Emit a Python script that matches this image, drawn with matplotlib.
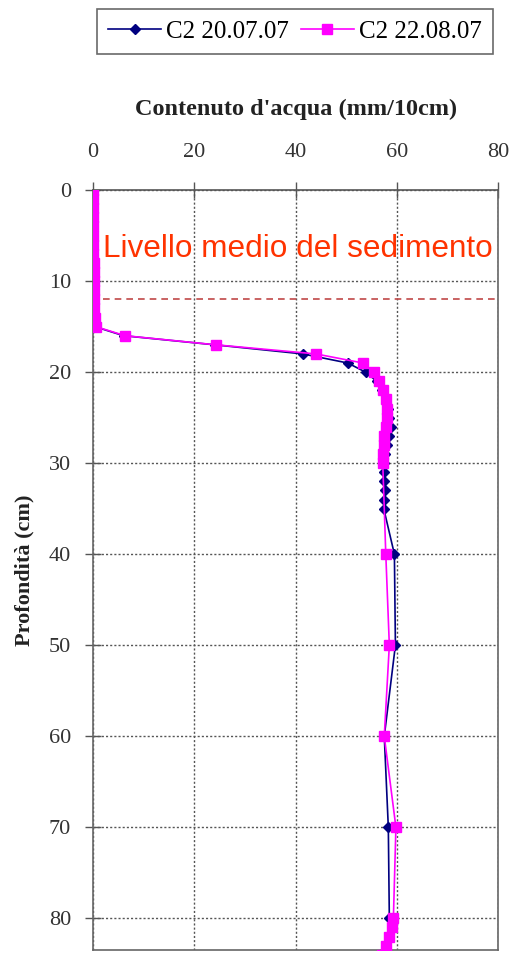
import matplotlib.pyplot as plt

# --- Data: water content (mm/10cm) by depth (cm) ---
depth_0707 = [0, 1, 2, 3, 4, 5, 6, 7, 8, 9, 10, 11, 12, 13, 14, 15,
              16, 17, 18, 19, 20, 21, 22, 23, 24, 25, 26, 27, 28, 29,
              30, 31, 32, 33, 34, 35, 40, 50, 60, 70, 80]
water_0707 = [0.0, 0.0, 0.0, 0.0, 0.0, 0.0, 0.0, 0.0, 0.0, 0.0, 0.0, 0.0, 0.0, 0.1, 0.2, 0.3,
              6.0, 24.0, 41.4, 50.3, 53.8, 56.0, 57.0, 57.8, 58.3, 58.5, 58.8, 58.5, 58.0, 57.7,
              57.5, 57.4, 57.5, 57.6, 57.5, 57.4, 59.5, 59.7, 57.5, 58.3, 58.5]

depth_2208 = [0, 1, 2, 3, 4, 5, 6, 7, 8, 9, 10, 11, 12, 13, 14, 15,
              16, 17, 18, 19, 20, 21, 22, 23, 24, 25, 26, 27, 28, 29,
              30, 40, 50, 60, 70, 80, 81, 82, 83, 84]
water_2208 = [0.0, 0.0, 0.0, 0.0, 0.0, 0.0, 0.0, 0.0, 0.1, 0.1, 0.1, 0.1, 0.2, 0.2, 0.3, 0.5,
              6.3, 24.2, 44.0, 53.3, 55.5, 56.5, 57.3, 57.8, 58.0, 58.0, 57.8, 57.5, 57.5, 57.3,
              57.2, 57.8, 58.5, 57.5, 59.8, 59.3, 59.0, 58.4, 57.8, 57.0]

sediment_level = 12
x_ticks = [0, 20, 40, 60, 80]
y_ticks = [0, 10, 20, 30, 40, 50, 60, 70, 80]

serif = ['Liberation Serif', 'DejaVu Serif']

fig = plt.figure(figsize=(5.12, 9.55), dpi=100)
ax = fig.add_axes([0.182, 0.005, 0.791, 0.796])

l1, = ax.plot(water_0707, depth_0707, color='#000080', lw=1.2, marker='D',
              ms=5.5, mec='#000080', mfc='#000080', label='C2 20.07.07', zorder=3)
l2, = ax.plot(water_2208, depth_2208, color='#FF00FF', lw=1.2, marker='s',
              ms=7.5, mec='#FF00FF', mfc='#FF00FF', label='C2 22.08.07', zorder=4)

# sediment level marker
ax.plot([2, 80], [sediment_level, sediment_level], color='#C04848', lw=1.2,
        ls=(0, (4, 3)), zorder=2)
ax.text(2, 7.4, 'Livello medio del sedimento', color='#FF3300',
        fontsize=22.7, family='Liberation Sans', va='baseline', ha='left', zorder=5)

ax.set_xlim(0, 80)
ax.set_ylim(83.5, 0)
ax.xaxis.tick_top()
ax.xaxis.set_label_position('top')
ax.set_xticks(x_ticks)
ax.set_yticks(y_ticks)
ax.grid(True, color='#555555', ls=(0, (1.5, 1.5)), lw=1.0)
ax.set_axisbelow(True)

for lab in ax.get_xticklabels() + ax.get_yticklabels():
    lab.set_family(serif)
    lab.set_fontsize(16)
    lab.set_color('#333333')
ax.tick_params(axis='x', direction='inout', length=12, width=1, color='#555555', pad=14)
ax.tick_params(axis='y', direction='inout', length=12, width=1, color='#555555', pad=10)

for s in ax.spines.values():
    s.set_color('#666666')
    s.set_linewidth(1.2)
ax.spines['top'].set_color('#555555')

ax.set_xlabel("Contenuto d'acqua (mm/10cm)", family=serif, fontsize=17.5,
              fontweight='bold', color='#222222', labelpad=20)
ax.set_ylabel('Profondità (cm)', family=serif, fontsize=16,
              fontweight='bold', color='#222222', labelpad=10)

leg = fig.legend(handles=[l1, l2], loc='center', bbox_to_anchor=(0.576, 0.967),
                 ncol=2, frameon=True, fancybox=False, edgecolor='#444444',
                 prop={'family': serif, 'size': 18}, handlelength=2.1,
                 columnspacing=0.5, handletextpad=0.2, borderpad=0.45)
leg.get_frame().set_linewidth(1.2)

fig.savefig('out.png', dpi=100)
